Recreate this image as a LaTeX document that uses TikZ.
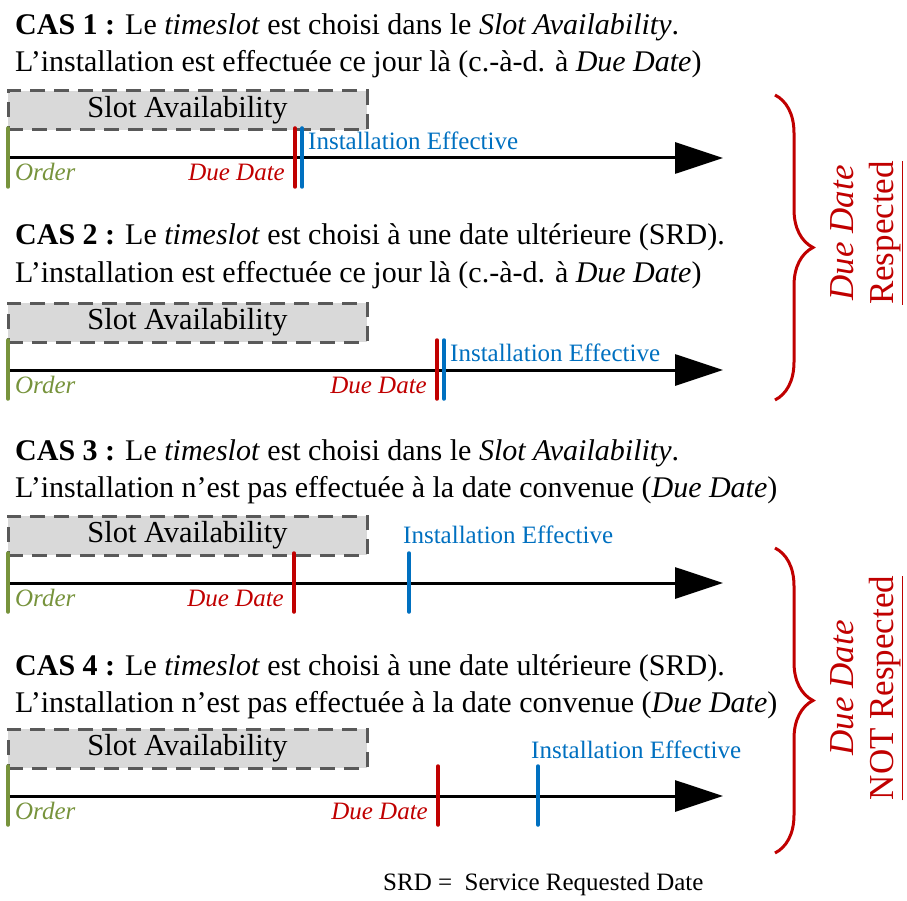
\documentclass[tikz,border=0pt]{standalone}
\usepackage{fontspec}
\setmainfont{Liberation Serif}
\usepackage{xcolor}
\usetikzlibrary{arrows.meta,decorations.pathreplacing}
\definecolor{duered}{HTML}{C00000}
\definecolor{instblue}{HTML}{0070C0}
\definecolor{ordergreen}{HTML}{77933C}
\definecolor{slotfill}{HTML}{D9D9D9}
\definecolor{slotedge}{HTML}{595959}

\begin{document}
\begin{tikzpicture}[
    x=1pt, y=-1pt,
    caseline/.style={anchor=base west, inner sep=0pt, font=\fontsize{30}{36}\selectfont},
    slotbox/.style={draw=slotedge, fill=slotfill, line width=3pt, dash pattern=on 15pt off 9pt,
      minimum width=359pt, minimum height=39pt, inner sep=0pt, font=\fontsize{30.5}{36}\selectfont},
    timeline/.style={draw=black, line width=3pt, -{Triangle[length=48pt,width=31pt]}},
    datetick/.style={line width=3.5pt, line cap=round},
    lbl/.style={inner sep=0pt, font=\fontsize{25}{30}\selectfont},
    verdict/.style={inner sep=0pt, rotate=90, align=center, text=duered,
      font=\fontsize{35}{40}\selectfont},
    bracket/.style={draw=duered, line width=3pt, decorate,
      decoration={brace, amplitude=38pt, aspect=0.5}},
  ]
  \useasboundingbox (0,0) rectangle (907,901);

  % ---- the four cases, one timeline each
  \foreach \k/\y/\dd/\ie/\ix/\iy in {1/0/295/302/6/8, 2/212/437/444/6/9,
                                      3/425/294/409/-6/40, 4/638/438/538/-7/38} {
    \node[slotbox] (slot\k) at (187.5,{110.5+\y}) {Slot Availability};
    \coordinate (order\k) at (8,{158+\y});
    \coordinate (tip\k) at (723,{158+\y});
    \coordinate (due\k) at (\dd,{158+\y});
    \coordinate (inst\k) at (\ie,{158+\y});
    \draw[timeline] (order\k) -- (tip\k);
    \draw[datetick, draw=ordergreen] ([yshift=30pt]order\k) -- ([yshift=-29pt]order\k);
    \draw[datetick, draw=duered] ([yshift=30pt]due\k) -- ([yshift=-29pt]due\k);
    \draw[datetick, draw=instblue] ([yshift=30pt]inst\k) -- ([yshift=-29pt]inst\k);
    \node[lbl, anchor=base west, text=ordergreen, font=\fontsize{25}{30}\selectfont\itshape]
      (orderlbl\k) at ([xshift=7pt, yshift=-23pt]order\k) {Order};
    \node[lbl, anchor=base east, text=duered, font=\fontsize{25}{30}\selectfont\itshape]
      (duelbl\k) at ([xshift=-10pt, yshift=-23pt]due\k) {Due Date};
    \node[lbl, anchor=base west, text=instblue]
      (instlbl\k) at ([xshift=\ix pt, yshift=\iy pt]inst\k) {Installation Effective};
  }

  % ---- what each case says
  \node[caseline] (cas1a) at (15,35) {\textbf{CAS 1 :} Le \textit{timeslot} est choisi dans le \textit{Slot Availability}.};
  \node[caseline] (cas1b) at (15,72) {L’installation est effectuée ce jour là (c.-à-d. à \textit{Due Date})};
  \node[caseline] (cas2a) at (15,245) {\textbf{CAS 2 :} Le \textit{timeslot} est choisi à une date ultérieure (SRD).};
  \node[caseline] (cas2b) at (15,282) {L’installation est effectuée ce jour là (c.-à-d. à \textit{Due Date})};
  \node[caseline] (cas3a) at (15,460) {\textbf{CAS 3 :} Le \textit{timeslot} est choisi dans le \textit{Slot Availability}.};
  \node[caseline] (cas3b) at (15,497) {L’installation n’est pas effectuée à la date convenue (\textit{Due Date})};
  \node[caseline] (cas4a) at (15,675) {\textbf{CAS 4 :} Le \textit{timeslot} est choisi à une date ultérieure (SRD).};
  \node[caseline] (cas4b) at (15,712) {L’installation n’est pas effectuée à la date convenue (\textit{Due Date})};

  % ---- braces grouping the cases
  \coordinate (okTop) at (775,95);
  \coordinate (okBot) at (775,400);
  \coordinate (nokTop) at (775,548);
  \coordinate (nokBot) at (775,853);
  \draw[bracket] (okTop) -- (okBot);
  \draw[bracket] (nokTop) -- (nokBot);
  \node[verdict] (okText) at (867,233) {\textit{Due Date}\\\underline{Respected}};
  \node[verdict] (nokText) at (867,688) {\textit{Due Date}\\\underline{NOT Respected}};

  % ---- footnote
  \node[lbl, anchor=base west] (srd) at (383,890) {SRD =\ \ Service Requested Date};
\end{tikzpicture}
\end{document}
